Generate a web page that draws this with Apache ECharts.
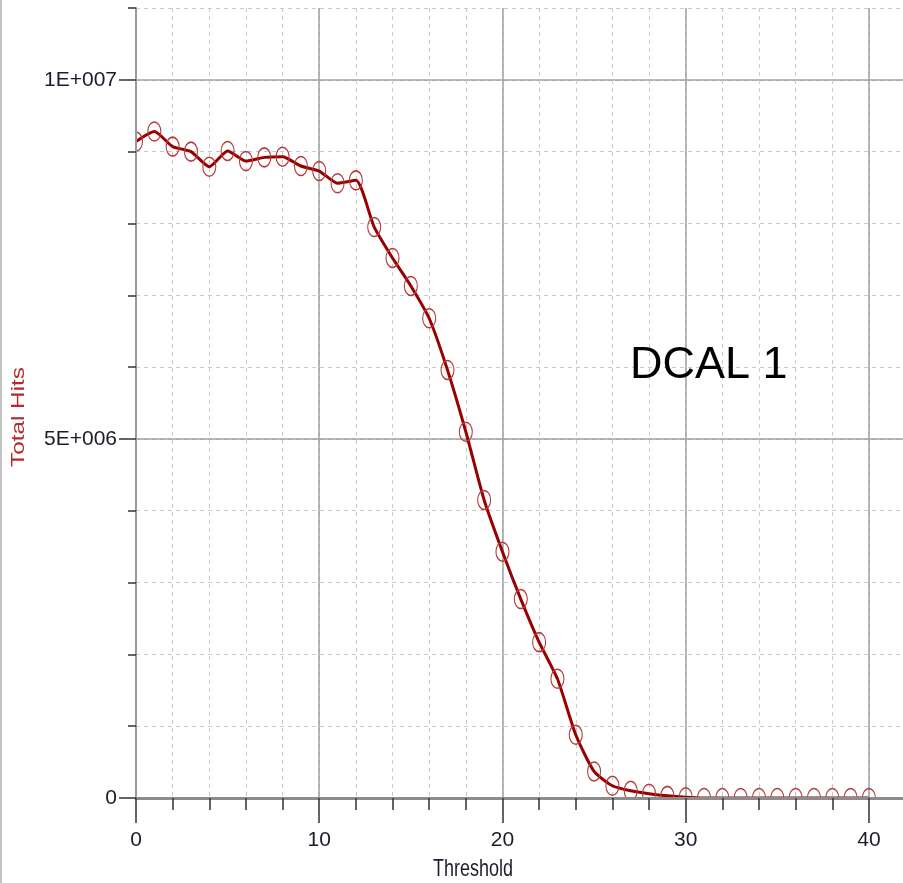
<!DOCTYPE html>
<html>
<head>
<meta charset="utf-8">
<script src="https://cdn.jsdelivr.net/npm/echarts@6/dist/echarts.min.js"></script>
<style>
  html, body { margin: 0; padding: 0; background: #fff; }
  #chart { width: 903px; height: 883px; }
</style>
</head>
<body>
<div id="chart"></div>
<script>
// threshold steps 0..40
const thresholds = [0, 1, 2, 3, 4, 5, 6, 7, 8, 9, 10, 11, 12, 13, 14, 15, 16, 17, 18, 19, 20,
  21, 22, 23, 24, 25, 26, 27, 28, 29, 30, 31, 32, 33, 34, 35, 36, 37, 38, 39, 40]
const totalHits = [9.14e6, 9.28e6, 9.07e6, 9.00e6, 8.79e6, 9.01e6, 8.87e6, 8.92e6, 8.93e6, 8.80e6,
  8.73e6, 8.56e6, 8.60e6, 7.95e6, 7.52e6, 7.13e6, 6.68e6, 5.96e6, 5.10e6, 4.15e6,
  3.43e6, 2.77e6, 2.17e6, 1.66e6, 0.88e6, 0.37e6, 0.17e6, 0.10e6, 0.06e6, 0.03e6,
  0.01e6, 0, 0, 0, 0, 0, 0, 0, 0, 0, 0]
const xMajorTicks = [0, 10, 20, 30, 40]
const xMinorTicks = [0, 2, 4, 6, 8, 10, 12, 14, 16, 18, 20, 22, 24, 26, 28, 30, 32, 34, 36, 38, 40]
const yLabelValues = [0, 5e6, 1e7]
const yLabelTexts = ['0', '5E+006', '1E+007']

const labelFont = "'Liberation Sans', Arial, sans-serif"
const gridDash = { color: '#c8c8c8', width: 1, type: [4, 4] }
const gridSolid = '#a0a0a0'

const myChart = echarts.init(document.getElementById('chart'))

// the plot runs off the right edge of the picture a little past 40
const xBase = { type: 'value', min: 0, max: 41.86, gridIndex: 0 }
const yBase = { type: 'value', min: 0, max: 1.1e7, gridIndex: 0, position: 'left' }

const option = {
  animation: false,
  backgroundColor: '#fff',
  grid: { left: 136, top: 8, right: 0, height: 790, containLabel: false },
  xAxis: [
    Object.assign({}, xBase, {
      z: 0, interval: 2,
      axisLine: { show: false }, axisTick: { show: false }, axisLabel: { show: false },
      splitLine: { show: true, showMaxLine: false, lineStyle: gridDash }
    }),
    Object.assign({}, xBase, {
      z: 0, interval: 10,
      axisLine: { show: false }, axisTick: { show: false }, axisLabel: { show: false },
      splitLine: { show: true, showMaxLine: false, lineStyle: { color: gridSolid, width: 1.5 } }
    }),
    Object.assign({}, xBase, {
      z: 10, interval: 2, position: 'bottom',
      axisLine: { show: true, onZero: false, lineStyle: { color: '#8c8c8c', width: 3 } },
      axisTick: { show: true, length: 12, customValues: xMinorTicks, lineStyle: { color: '#333', width: 1.5 } },
      axisLabel: { show: false },
      splitLine: { show: false }
    }),
    Object.assign({}, xBase, {
      z: 10, interval: 10, position: 'bottom',
      axisLine: { show: false },
      axisTick: { show: true, length: 25, customValues: xMajorTicks, lineStyle: { color: '#333', width: 1.5 } },
      axisLabel: {
        margin: 32, color: '#1c1c2c', fontSize: 21, fontFamily: labelFont,
        customValues: xMajorTicks
      },
      splitLine: { show: false }
    })
  ],
  yAxis: [
    Object.assign({}, yBase, {
      z: 0, interval: 1e6,
      axisLine: { show: false }, axisTick: { show: false }, axisLabel: { show: false },
      splitLine: { show: true, lineStyle: gridDash }
    }),
    Object.assign({}, yBase, {
      z: 0, interval: 5e6,
      axisLine: { show: false }, axisTick: { show: false }, axisLabel: { show: false },
      splitLine: { show: true, lineStyle: { color: [gridSolid, gridSolid, gridSolid, 'rgba(0,0,0,0)'], width: 1.5 } }
    }),
    Object.assign({}, yBase, {
      z: 10, interval: 1e6,
      axisLine: { show: true, onZero: false, lineStyle: { color: '#999', width: 2 } },
      axisTick: { show: true, length: 8, lineStyle: { color: '#333', width: 1.5 } },
      axisLabel: { show: false },
      splitLine: { show: false }
    }),
    Object.assign({}, yBase, {
      z: 10, interval: 5e6,
      axisLine: { show: false },
      axisTick: { show: true, length: 17, customValues: yLabelValues, lineStyle: { color: '#333', width: 1.5 } },
      axisLabel: {
        margin: 19, color: '#1c1c2c', fontSize: 21, fontFamily: labelFont,
        customValues: yLabelValues,
        formatter: v => {
          const i = yLabelValues.indexOf(v)
          return i >= 0 ? yLabelTexts[i] : ''
        }
      },
      splitLine: { show: false }
    })
  ],
  graphic: [
    // white masks: the original clips the markers at the plot edges
    { type: 'rect', z: 5, silent: true, shape: { x: 0, y: 799, width: 903, height: 84 }, style: { fill: '#fff' } },
    { type: 'rect', z: 5, silent: true, shape: { x: 0, y: 0, width: 135, height: 883 }, style: { fill: '#fff' } },
    { type: 'line', z: 20, silent: true, shape: { x1: 1, y1: 0, x2: 1, y2: 883 }, style: { stroke: '#c4c4c4', lineWidth: 2 } },
    {
      type: 'text', z: 20, silent: true, x: 473, y: 869, scaleX: 0.75,
      style: { text: 'Threshold', fill: '#1c1c2c', font: '24px ' + labelFont, textAlign: 'center', textVerticalAlign: 'middle' }
    },
    {
      type: 'text', z: 20, silent: true, x: 18.5, y: 417, rotation: Math.PI / 2, scaleX: 1.28,
      style: { text: 'Total Hits', fill: '#b22a2a', font: '19px ' + labelFont, textAlign: 'center', textVerticalAlign: 'middle' }
    },
    {
      type: 'text', z: 20, silent: true, x: 630, y: 366,
      style: { text: 'DCAL 1', fill: '#000', font: '45px ' + labelFont, textAlign: 'left', textVerticalAlign: 'middle' }
    }
  ],
  series: [
    {
      name: 'Total Hits',
      type: 'line',
      xAxisIndex: 0,
      yAxisIndex: 0,
      z: 2,
      smooth: 0.2,
      data: thresholds.map((t, i) => [t, totalHits[i]]),
      symbol: 'path://M50,0 C77.6,0 100,22.4 100,50 C100,77.6 77.6,100 50,100 C22.4,100 0,77.6 0,50 C0,22.4 22.4,0 50,0 Z',
      symbolSize: [13, 19],
      showAllSymbol: true,
      itemStyle: { color: 'rgba(0,0,0,0)', borderColor: '#b43c3c', borderWidth: 1.3 },
      lineStyle: { color: '#990000', width: 3 },
      emphasis: { disabled: true },
      silent: true
    }
  ]
}
myChart.setOption(option)
</script>
</body>
</html>
